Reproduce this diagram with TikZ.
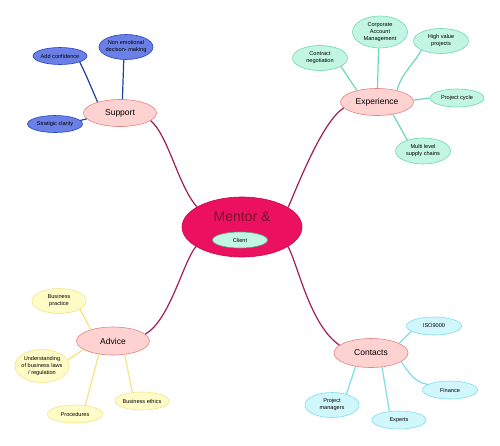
\documentclass[tikz,border=0pt]{standalone}
\usepackage{fontspec}
\setmainfont{Liberation Sans}
\usetikzlibrary{shapes.geometric}
\definecolor{cfill}{HTML}{EC1060}
\definecolor{cdraw}{HTML}{C8084E}
\definecolor{ctext}{HTML}{7A1030}
\definecolor{mline}{HTML}{A01E55}
\definecolor{mfill}{HTML}{FFD2D2}
\definecolor{mdraw}{HTML}{E08585}
\definecolor{bfill}{HTML}{6B80E6}
\definecolor{bdraw}{HTML}{2443BF}
\definecolor{bline}{HTML}{1F3FA0}
\definecolor{gfill}{HTML}{C2F5E2}
\definecolor{gdraw}{HTML}{6FD9B3}
\definecolor{yfill}{HTML}{FFFCC8}
\definecolor{ydraw}{HTML}{F2E585}
\definecolor{tfill}{HTML}{CFF7FC}
\definecolor{tdraw}{HTML}{80DCEC}
\tikzset{
  centre/.style={ellipse, fill=cfill, draw=cdraw, line width=0.6pt, minimum width=120pt, minimum height=60pt, inner sep=0pt},
  mainnode/.style={ellipse, fill=mfill, draw=mdraw, line width=0.6pt, minimum width=73pt, minimum height=27pt, inner sep=0pt, font=\fontsize{8.5}{10}\selectfont},
  leaf/.style={ellipse, line width=0.6pt, minimum width=54pt, inner sep=0pt},
  leaftext/.style={font=\fontsize{5.6}{7}\selectfont, align=center, inner sep=0pt, text=black},
  bleaf/.style={leaf, fill=bfill, draw=bdraw},
  gleaf/.style={leaf, fill=gfill, draw=gdraw},
  yleaf/.style={leaf, fill=yfill, draw=ydraw},
  tleaf/.style={leaf, fill=tfill, draw=tdraw},
  mainline/.style={draw=mline, line width=1.2pt},
  bconn/.style={draw=bline, line width=1.2pt},
  gconn/.style={draw=gdraw, line width=1.2pt},
  yconn/.style={draw=ydraw, line width=1.2pt},
  tconn/.style={draw=tdraw, line width=1.2pt},
}
\begin{document}
\begin{tikzpicture}[x=1pt,y=1pt]
\useasboundingbox[fill=white] (0,0) rectangle (500,-445);
% centre
\node[centre] (men) at (242,-227) {};
\node[font=\fontsize{14}{16}\selectfont, text=ctext, inner sep=0pt] (mentxt) at (242,-217) {Mentor \&};
\node[ellipse, fill=gfill, draw=gdraw!80!black, line width=0.6pt, minimum width=55pt, minimum height=16pt, inner sep=0pt,
      label={[leaftext]center:Client}] (cli) at (240,-240) {};
% main nodes
\node[mainnode] (sup) at (120,-113) {Support};
\node[mainnode] (exp) at (377,-102) {Experience};
\node[mainnode, minimum height=28pt] (adv) at (113,-341) {Advice};
\node[mainnode, minimum width=74pt, minimum height=29pt] (con) at (371,-353) {Contacts};
% main connectors
\draw[mainline] (men.156) .. controls (178,-185) and (168,-135) .. (sup.-14);
\draw[mainline] (men.23) .. controls (298,-185) and (322,-122) .. (exp.190);
\draw[mainline] (men.203) .. controls (183,-262) and (170,-320) .. (adv.12);
\draw[mainline] (men.-23) .. controls (298,-265) and (310,-325) .. (con.166);
% support leaves
\node[bleaf, minimum height=17pt, label={[leaftext]center:Add confidence}] (ac) at (60,-56) {};
\node[bleaf, minimum height=25pt, label={[leaftext]center:Non emotional\\decison- making}] (ne) at (126,-47) {};
\node[bleaf, minimum width=55pt, minimum height=17pt, label={[leaftext]center:Stratigic clarity}] (sc) at (55,-124) {};
\draw[bconn] (ac.-17) .. controls (86,-75) .. (sup.154);
\draw[bconn] (ne.-100) -- (sup.80);
\draw[bconn] (sc.8) -- (sup.190);
% experience leaves
\node[gleaf, minimum width=55pt, minimum height=25pt, label={[leaftext]center:Contract\\negotiation}] (cn) at (320,-58) {};
\node[gleaf, minimum width=55pt, minimum height=32pt, label={[leaftext]center:Corporate\\Account\\Management}] (cam) at (380,-32) {};
\node[gleaf, minimum width=55pt, minimum height=25pt, label={[leaftext]center:High value\\projects}] (hv) at (441,-41) {};
\node[gleaf, minimum height=18pt, label={[leaftext]center:Project cycle}] (pc) at (457,-98) {};
\node[gleaf, minimum width=55pt, minimum height=26pt, label={[leaftext]center:Multi level\\supply chains}] (ml) at (423,-151) {};
\draw[gconn] (cn.-22) -- (exp.150);
\draw[gconn] (cam.-95) -- (exp.88);
\draw[gconn] (hv.205) to[out=240, in=75] (exp.30);
\draw[gconn] (pc.180) -- (exp.3);
\draw[gconn] (ml.145) -- (exp.-38);
% advice leaves
\node[yleaf, minimum height=25pt, label={[leaftext]center:Business\\practice}] (bp) at (59,-301) {};
\node[yleaf, minimum height=33pt, label={[leaftext]center:Understanding\\of business laws\\/ regulation}] (ub) at (42,-366) {};
\node[yleaf, minimum width=55pt, minimum height=18pt, label={[leaftext]center:Procedures}] (pr) at (75,-414) {};
\node[yleaf, minimum height=18pt, label={[leaftext]center:Business ethics}] (be) at (142,-401) {};
\draw[yconn] (bp.-21) -- (adv.153);
\draw[yconn] (ub.13) -- (adv.196);
\draw[yconn] (pr.40) -- (adv.-137);
\draw[yconn] (be.138) -- (adv.-49);
% contacts leaves
\node[tleaf, minimum width=55pt, minimum height=18pt, label={[leaftext]center:ISO9000}] (iso) at (434,-326) {};
\node[tleaf, minimum width=55pt, minimum height=18pt, label={[leaftext]center:Finance}] (fin) at (450,-390) {};
\node[tleaf, minimum height=18pt, label={[leaftext]center:Experts}] (ex) at (399,-420) {};
\node[tleaf, minimum height=25pt, label={[leaftext]center:Project\\managers}] (pm) at (332,-405) {};
\draw[tconn] (iso.193) -- (con.19);
\draw[tconn] (con.-16) to[out=-55, in=170] (fin.166);
\draw[tconn] (ex.138) -- (con.-52);
\draw[tconn] (pm.37) -- (con.-139);
\end{tikzpicture}
\end{document}
